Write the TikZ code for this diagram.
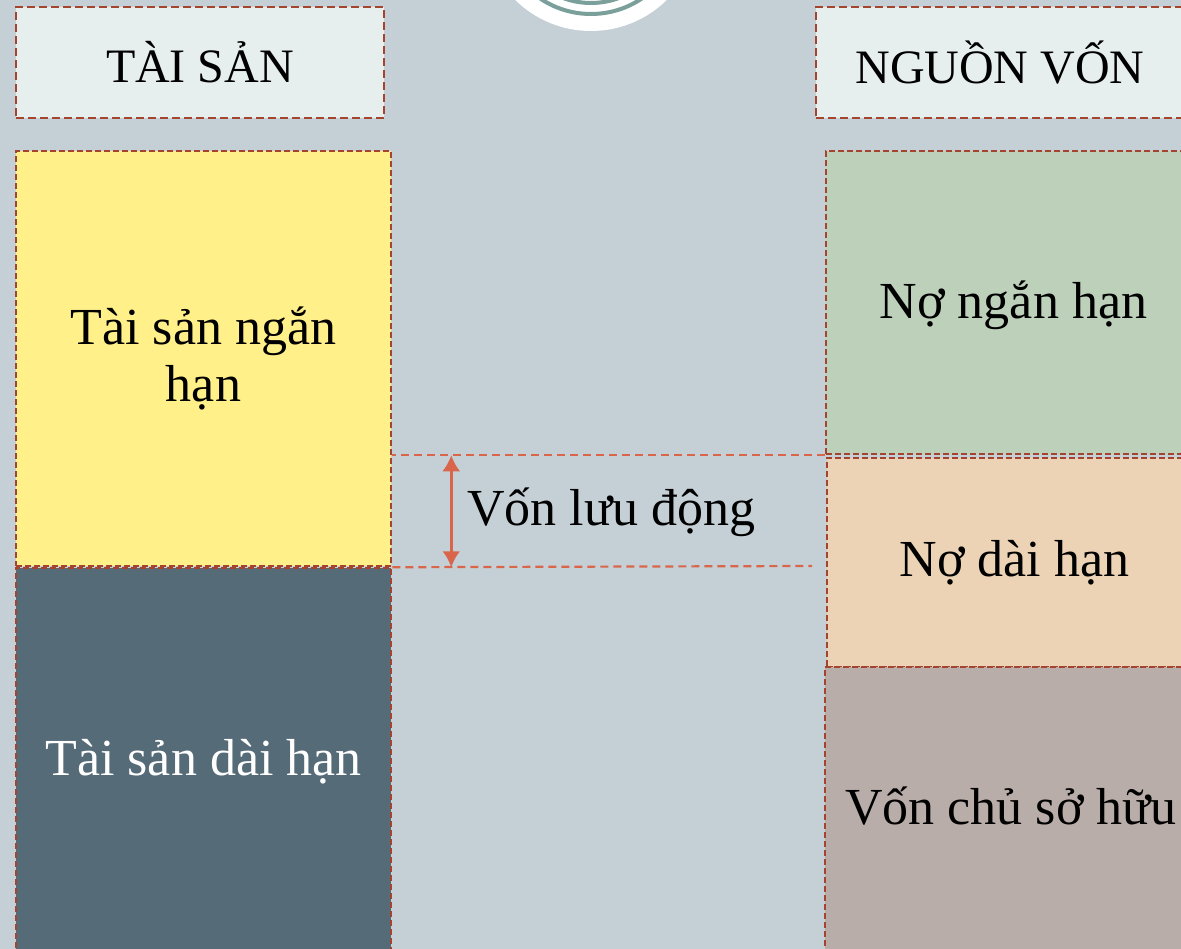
\documentclass[tikz,border=0pt]{standalone}
\usepackage{fontspec}
\setmainfont{Liberation Serif}
\usetikzlibrary{arrows.meta}
\definecolor{bgcol}{HTML}{C5D0D6}
\definecolor{headcol}{HTML}{E6EEEE}
\definecolor{edgecol}{HTML}{A4442E}
\definecolor{wccol}{HTML}{D9654A}
\definecolor{ringcol}{HTML}{7BA09C}
\definecolor{shortcol}{HTML}{FFF08A}
\definecolor{longcol}{HTML}{566B78}
\definecolor{debtcol}{HTML}{BCD0BA}
\definecolor{loancol}{HTML}{EDD3B5}
\definecolor{eqcol}{HTML}{B8ADA8}
\begin{document}
\begin{tikzpicture}[x=1pt,y=-1pt,>={Latex[length=16pt,width=18pt]}]
  \tikzstyle{box}=[draw=edgecol,line width=2.5pt,dash pattern=on 6pt off 3pt,rectangle,inner sep=0pt,minimum width=375pt,align=center,font=\fontsize{52}{57}\selectfont]
  \tikzstyle{head}=[box,fill=headcol,minimum width=368pt,minimum height=111pt,dash pattern=on 8pt off 4pt,font=\fontsize{48}{52}\selectfont]
  \tikzstyle{guide}=[draw=wccol,line width=2.2pt,dash pattern=on 8pt off 5pt]
  \def\dw{59}	% arrow offset from asset column
  \useasboundingbox (0,0) rectangle (1181,949);
  \clip (0,0) rectangle (1181,949);
  \fill[bgcol] (0,0) rectangle (1181,949);
  % logo cut at top edge
  \fill[white] (591,-77) circle (108);
  \draw[ringcol,line width=4pt] (591,-77) circle (91) (591,-77) circle (80);
  % headings
  \node[head] (assets) at (200,62.5) {TÀI SẢN};
  \node[head] (sources) at (1000,62.5) {NGUỒN VỐN};
  % assets
  \node[box,fill=shortcol,minimum height=415pt] (shortA) at (203.5,358.5) {Tài sản ngắn\\hạn};
  \node[box,fill=longcol,text=white,minimum height=388pt] (longA) at (203.5,762) {Tài sản dài hạn};
  % sources
  \node[box,fill=debtcol,minimum height=303pt,text depth=6pt] (shortL) at (1013.5,302.5) {Nợ ngắn hạn};
  \node[box,fill=loancol,minimum height=209pt] (longL) at (1014.5,562.5) {Nợ dài hạn};
  \node[box,fill=eqcol,minimum height=300pt] (equity) at (1012.5,817) {};
  \node[font=\fontsize{52}{57}\selectfont,inner sep=0pt] (equityTxt) at (1011,806) {Vốn chủ sở hữu};
  % working capital
  \path (shortA.east |- shortL.south) + (\dw,0) coordinate (wcTop);
  \path (shortA.south east) + (\dw,0) coordinate (wcBot);
  \coordinate (wcEnd) at (812,566);
  \draw[guide] (shortL.south west) -- (shortA.east |- shortL.south);
  \draw[guide] (shortA.south east) -- (wcEnd);
  \draw[<->,wccol,line width=3pt] (wcTop) -- (wcBot);
  \node[anchor=west,inner sep=0pt,font=\fontsize{52}{57}\selectfont] (wcTxt) at (467,512) {Vốn lưu động};
\end{tikzpicture}
\end{document}
